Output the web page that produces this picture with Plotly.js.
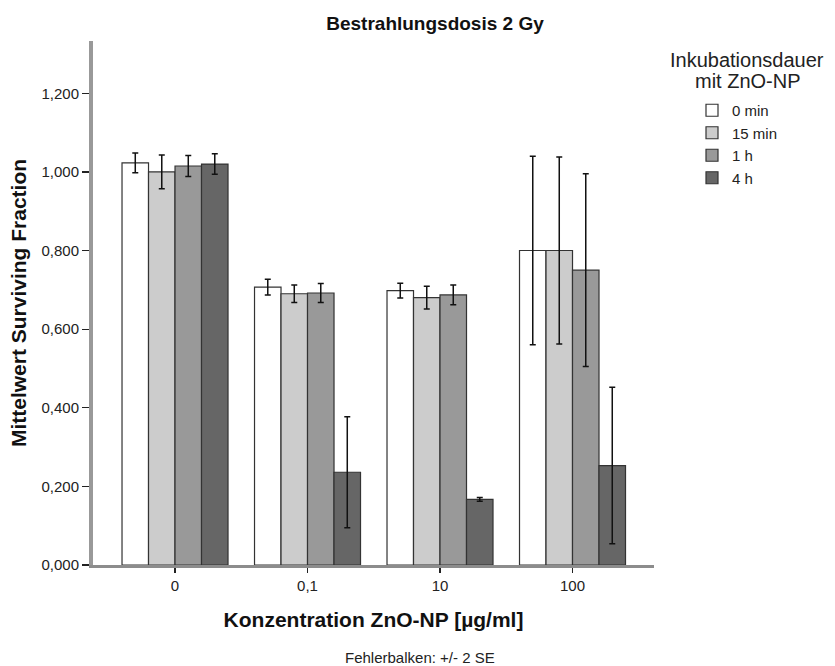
<!DOCTYPE html>
<html>
<head>
<meta charset="utf-8">
<script src="https://cdn.plot.ly/plotly-3.0.1.min.js"></script>
<style>
  html, body { margin: 0; padding: 0; background: #fff; }
  #chart { width: 835px; height: 666px; }
</style>
</head>
<body>
<div id="chart"></div>
<script>
// Categories (ZnO-NP concentration, µg/ml)
const categories = ["0", "0,1", "10", "100"];

// Series names (incubation duration)
const seriesNames = ["0 min", "15 min", "1 h", "4 h"];

// Legend title lines
const legendTitleLines = ["Inkubationsdauer", "mit ZnO-NP"];

// Mean surviving fraction per series
const mean0min  = [1.023, 0.707, 0.698, 0.800];
const mean15min = [1.000, 0.690, 0.680, 0.800];
const mean1h    = [1.015, 0.692, 0.687, 0.750];
const mean4h    = [1.020, 0.236, 0.167, 0.253];

// Error (+/- 2 SE) per series
const err0min  = [0.025, 0.020, 0.019, 0.240];
const err15min = [0.043, 0.022, 0.029, 0.238];
const err1h    = [0.027, 0.024, 0.025, 0.245];
const err4h    = [0.026, 0.141, 0.005, 0.199];

// Y tick values
const yTicks = [0, 0.2, 0.4, 0.6, 0.8, 1.0, 1.2];

const means = [mean0min, mean15min, mean1h, mean4h];
const errs = [err0min, err15min, err1h, err4h];
const fills = ["#ffffff", "#cccccc", "#999999", "#666666"];

const FONT = "Liberation Sans, Arial, sans-serif";

const traces = seriesNames.map((name, i) => ({
  type: "bar",
  name: name,
  x: categories,
  y: means[i],
  marker: { color: fills[i], line: { color: "#333333", width: 1.2 } },
  error_y: { type: "data", array: errs[i], visible: true, color: "#111111", thickness: 1.5, width: 3 },
  hoverinfo: "none"
}));

// pixel helpers for paper coordinates (plot area: x 93..654, y 41..565)
const px = (x) => (x - 93) / 561;
const py = (y) => (565 - y) / 524;

const layout = {
  width: 835,
  height: 666,
  margin: { l: 93, r: 181, t: 41, b: 101 },
  paper_bgcolor: "#ffffff",
  plot_bgcolor: "#ffffff",
  separators: ",.",
  font: { family: FONT, color: "#222222", size: 15 },
  barmode: "group",
  bargap: 0.2,
  bargroupgap: 0,
  showlegend: true,
  title: {
    text: "<b>Bestrahlungsdosis 2 Gy</b>",
    font: { family: FONT, size: 19, color: "#111111" },
    x: px(435), xref: "paper", xanchor: "center",
    y: 0.965, yref: "container", yanchor: "middle"
  },
  xaxis: {
    type: "category",
    range: [-0.619, 3.615],
    showgrid: false,
    zeroline: false,
    showline: true,
    linecolor: "#8c8c8c",
    linewidth: 3,
    ticks: "outside",
    ticklen: 5,
    tickwidth: 1.2,
    tickcolor: "#222222",
    tickfont: { family: FONT, size: 15, color: "#222222" },
    title: {
      text: "<b>Konzentration ZnO-NP [µg/ml]</b>",
      font: { family: FONT, size: 21, color: "#111111" },
      standoff: 20
    }
  },
  yaxis: {
    range: [0, 1.333],
    tickvals: yTicks,
    tickformat: ".3f",
    showgrid: false,
    zeroline: false,
    showline: true,
    linecolor: "#999999",
    linewidth: 4,
    ticks: "outside",
    ticklen: 7,
    tickwidth: 1.2,
    tickcolor: "#222222",
    tickfont: { family: FONT, size: 15, color: "#222222" },
    title: {
      text: "<b>Mittelwert Surviving Fraction</b>",
      font: { family: FONT, size: 21, color: "#111111" },
      standoff: 10
    }
  },
  legend: {
    x: px(692), xanchor: "left",
    y: py(94), yanchor: "top",
    font: { family: FONT, size: 15, color: "#222222" },
    bgcolor: "rgba(0,0,0,0)",
    itemclick: false,
    tracegroupgap: 0
  },
  annotations: [
    {
      text: legendTitleLines[0],
      xref: "paper", yref: "paper",
      x: px(747), y: py(60), xanchor: "center", yanchor: "middle",
      showarrow: false,
      font: { family: FONT, size: 20, color: "#222222" }
    },
    {
      text: legendTitleLines[1],
      xref: "paper", yref: "paper",
      x: px(748), y: py(81), xanchor: "center", yanchor: "middle",
      showarrow: false,
      font: { family: FONT, size: 20, color: "#222222" }
    },
    {
      text: "Fehlerbalken: +/- 2 SE",
      xref: "paper", yref: "paper",
      x: px(420), y: py(657),
      xanchor: "center", yanchor: "middle",
      showarrow: false,
      font: { family: FONT, size: 15, color: "#222222" }
    }
  ]
};

Plotly.newPlot("chart", traces, layout, { staticPlot: true, displayModeBar: false });
</script>
</body>
</html>
